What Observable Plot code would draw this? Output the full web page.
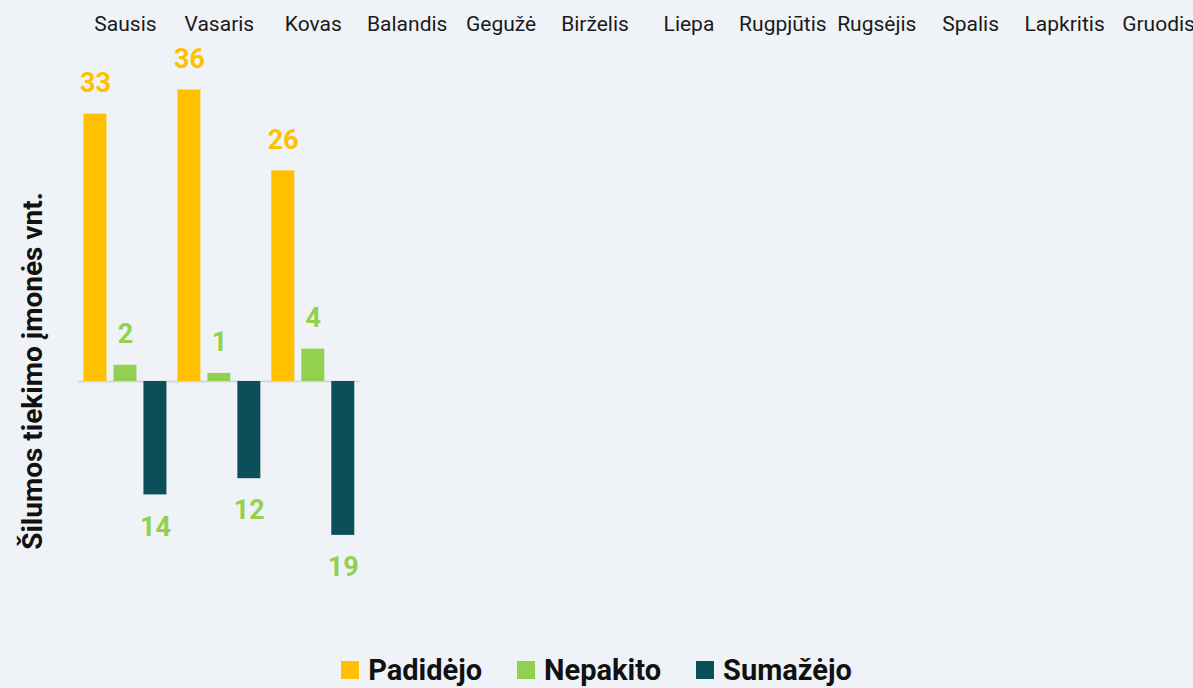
<!DOCTYPE html>
<html>
<head>
<meta charset="utf-8">
<script src="https://cdn.jsdelivr.net/npm/d3@7"></script>
<script src="https://cdn.jsdelivr.net/npm/@observablehq/plot@0.6"></script>
<style>
  html, body { margin: 0; padding: 0; background: #eff3f7; overflow: hidden; width: 1193px; height: 688px; }
  #chart svg { display: block; }
  #legend { display: flex; justify-content: center; align-items: center; gap: 35px; margin-top: 9px;
            font-family: Roboto, sans-serif; font-weight: bold; font-size: 29px; color: #111; line-height: 32px; }
  #legend .item { display: flex; align-items: center; gap: 9px; }
  #legend .sw { width: 18px; height: 18px; display: inline-block; }
</style>
</head>
<body>
<div id="chart"></div>
<div id="legend"></div>
<script>
const months = ["Sausis","Vasaris","Kovas","Balandis","Gegužė","Birželis","Liepa","Rugpjūtis","Rugsėjis","Spalis","Lapkritis","Gruodis"];
const series = ["Padidėjo","Nepakito","Sumažėjo"];
const dataMonths = ["Sausis","Vasaris","Kovas"];
const padidejo = [33, 36, 26];
const nepakito = [2, 1, 4];
const sumazejo = [14, 12, 19];
const colors = ["#ffc000", "#92d050", "#0b5058"];
const yLabel = "Šilumos tiekimo įmonės vnt.";

const values = {"Padidėjo": padidejo, "Nepakito": nepakito, "Sumažėjo": sumazejo};
const rows = [];
dataMonths.forEach((m, i) => {
  series.forEach(s => {
    const c = values[s][i];
    rows.push({month: m, series: s, count: c, signed: s === "Sumažėjo" ? -c : c});
  });
});

const chart = Plot.plot({
  width: 1193,
  height: 645,
  marginLeft: 78,
  marginRight: -12,
  marginTop: 57,
  marginBottom: 21,
  style: {background: "transparent", fontFamily: "Roboto, sans-serif", overflow: "visible"},
  fx: {domain: months, padding: 0, round: false, label: null, axis: null},
  x: {domain: series, paddingInner: 0.233, paddingOuter: 0.183, round: false, axis: null},
  y: {domain: [-30, 40], axis: null},
  color: {domain: series, range: colors},
  marks: [
    Plot.axisFx({anchor: "top", tickSize: 0, tickPadding: 27, fontSize: 21, label: null, color: "#1a1a1a"}),
    Plot.ruleY([0], {stroke: "#d5d8dc", strokeWidth: 2}),
    Plot.barY(rows, {fx: "month", x: "series", y: "signed", fill: "series"}),
    Plot.text(rows.filter(d => d.series === "Padidėjo"), {fx: "month", x: "series", y: "signed", text: "count", dy: -31, fill: colors[0], fontSize: 27, fontWeight: "bold"}),
    Plot.text(rows.filter(d => d.series === "Nepakito"), {fx: "month", x: "series", y: "signed", text: "count", dy: -31, fill: colors[1], fontSize: 27, fontWeight: "bold"}),
    Plot.text(rows.filter(d => d.series === "Sumažėjo"), {fx: "month", x: "series", y: "signed", text: "count", dy: 32, fill: colors[1], fontSize: 27, fontWeight: "bold"}),
    Plot.text([yLabel], {fx: [months[0]], frameAnchor: "left", textAnchor: "middle", text: d => d, rotate: -90, dx: -45, dy: 30, fontSize: 28, fontWeight: "bold", fill: "#111"})
  ]
});
document.getElementById("chart").appendChild(chart);

const legend = document.getElementById("legend");
series.forEach((s, i) => {
  const item = document.createElement("div");
  item.className = "item";
  const sw = document.createElement("span");
  sw.className = "sw";
  sw.style.background = colors[i];
  const t = document.createElement("span");
  t.textContent = s;
  item.appendChild(sw);
  item.appendChild(t);
  legend.appendChild(item);
});
</script>
</body>
</html>
